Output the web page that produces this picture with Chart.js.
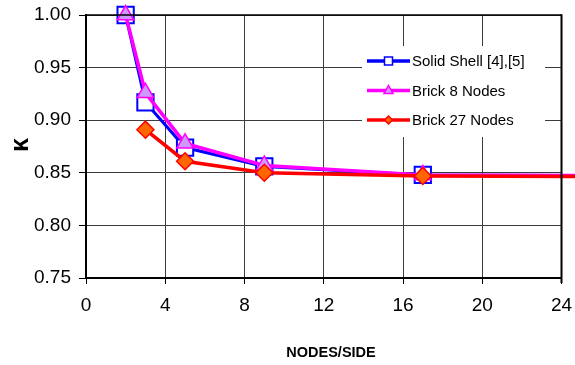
<!DOCTYPE html>
<html>
<head>
<meta charset="utf-8">
<script src="https://cdn.jsdelivr.net/npm/chart.js@4/dist/chart.umd.min.js"></script>
<style>
  html, body { margin: 0; padding: 0; background: #fff; }
  #wrap { width: 575px; height: 365px; position: relative; }
</style>
</head>
<body>
<div id="wrap"><canvas id="c" width="575" height="365"></canvas></div>
<script>
// Convergence of the correction factor with mesh refinement
const nodesPerSide = [2, 3, 5, 9, 17, 33];
const solidShell   = [1.000, 0.917, 0.874, 0.856, 0.848, 0.847];
const brick8       = [1.000, 0.926, 0.878, 0.857, 0.848, 0.847];
const brick27      = [null, 0.891, 0.861, 0.850, 0.847, 0.846];

const seriesNames = ['Solid Shell [4],[5]', 'Brick 8 Nodes', 'Brick 27 Nodes'];
const xTicks = [0, 4, 8, 12, 16, 20, 24];
const yTicks = ['0.75', '0.80', '0.85', '0.90', '0.95', '1.00'];
const xTitle = 'NODES/SIDE';
const yTitle = '\u03BA';

const toPoints = vals => nodesPerSide.map((n, i) => ({ x: n, y: vals[i] }));

const FONT = '"Liberation Sans", Arial, Helvetica, sans-serif';

const series = [
  { label: seriesNames[0], data: toPoints(solidShell), borderColor: '#0000FF', borderWidth: 3,
    pointStyle: 'rect', pointRadius: 11.5, pointBackgroundColor: '#FFFFFF',
    pointBorderColor: '#0000FF', pointBorderWidth: 2, order: 3 },
  { label: seriesNames[1], data: toPoints(brick8), borderColor: '#FF00FF', borderWidth: 3.5,
    pointStyle: 'triangle', pointRadius: 9.5, pointBackgroundColor: '#CC99FF',
    pointBorderColor: '#FF00FF', pointBorderWidth: 1.5, order: 2 },
  { label: seriesNames[2], data: toPoints(brick27), borderColor: '#FF0000', borderWidth: 3.5,
    pointStyle: 'rectRot', pointRadius: 8.5, pointBackgroundColor: '#FF6600',
    pointBorderColor: '#FF0000', pointBorderWidth: 1.5, order: 1 }
];

// Frame, axis titles and the in-plot legend
const decorations = {
  id: 'decorations',
  afterDatasetsDraw(chart) {
    const ctx = chart.ctx;
    const a = chart.chartArea;
    ctx.save();

    // heavy frame on the top and right edges
    ctx.strokeStyle = '#000';
    ctx.lineWidth = 1.5;
    ctx.beginPath(); ctx.moveTo(a.left, a.top); ctx.lineTo(a.right, a.top); ctx.stroke();
    ctx.lineWidth = 2;
    ctx.beginPath(); ctx.moveTo(a.right, a.top - 0.75); ctx.lineTo(a.right, a.bottom + 5); ctx.stroke();

    // legend box
    const bx = 362, by = 46, bw = 183, bh = 91;
    ctx.fillStyle = '#fff';
    ctx.fillRect(bx, by, bw, bh);
    const rows = [61, 90.5, 120];
    ctx.font = '15px ' + FONT;
    ctx.textBaseline = 'middle';
    ctx.textAlign = 'left';
    series.forEach((s, i) => {
      const y = rows[i];
      ctx.strokeStyle = s.borderColor;
      ctx.lineWidth = 3.5;
      ctx.beginPath(); ctx.moveTo(367, y); ctx.lineTo(410, y); ctx.stroke();
      const cx = 388.5;
      ctx.fillStyle = s.pointBackgroundColor;
      ctx.strokeStyle = s.pointBorderColor;
      ctx.lineWidth = 1.5;
      ctx.beginPath();
      if (s.pointStyle === 'rect') {
        ctx.rect(cx - 4, y - 4, 8, 8);
      } else if (s.pointStyle === 'triangle') {
        ctx.moveTo(cx, y - 5); ctx.lineTo(cx + 4.5, y + 3); ctx.lineTo(cx - 4.5, y + 3); ctx.closePath();
      } else {
        ctx.moveTo(cx, y - 4); ctx.lineTo(cx + 4, y); ctx.lineTo(cx, y + 4); ctx.lineTo(cx - 4, y); ctx.closePath();
      }
      ctx.fill(); ctx.stroke();
      ctx.fillStyle = '#000';
      ctx.fillText(s.label, 412, y + 1);
    });

    // x axis title
    ctx.fillStyle = '#000';
    ctx.font = 'bold 14.5px ' + FONT;
    ctx.textAlign = 'center';
    ctx.textBaseline = 'middle';
    ctx.fillText(xTitle, 331, 353);

    // y axis title
    ctx.save();
    ctx.translate(21, 145);
    ctx.rotate(-Math.PI / 2);
    ctx.font = 'bold 25px ' + FONT;
    ctx.fillText(yTitle, 0, 0);
    ctx.restore();

    ctx.restore();
  }
};

new Chart(document.getElementById('c'), {
  type: 'line',
  data: { datasets: series.map(s => Object.assign({ fill: false, tension: 0, clip: false, spanGaps: true }, s)) },
  options: {
    responsive: false,
    animation: false,
    events: [],
    layout: { padding: { left: 0, right: 11, top: 15, bottom: 0 } },
    plugins: { legend: { display: false }, tooltip: { enabled: false }, title: { display: false } },
    scales: {
      x: {
        type: 'linear', min: 0, max: 24,
        afterBuildTicks: s => { s.ticks = xTicks.map(v => ({ value: v })); },
        afterFit: s => { s.height = 87; s.paddingLeft = 0; s.paddingRight = 0; },
        grid: { color: '#3c3c3c', lineWidth: 1, drawTicks: true, tickLength: 6, tickColor: '#000', tickWidth: 1 },
        border: { display: true, color: '#000', width: 2 },
        ticks: { color: '#000', font: { family: FONT, size: 19 }, padding: 10, maxRotation: 0, autoSkip: false }
      },
      y: {
        type: 'linear', min: 0.75, max: 1.0,
        afterBuildTicks: s => { s.ticks = yTicks.map(v => ({ value: parseFloat(v) })); },
        afterFit: s => { s.width = 86; s.paddingTop = 0; s.paddingBottom = 0; },
        grid: { color: '#3c3c3c', lineWidth: 1, drawTicks: true, tickLength: 7, tickColor: '#000', tickWidth: 1 },
        border: { display: true, color: '#000', width: 2 },
        ticks: { color: '#000', font: { family: FONT, size: 19 }, padding: 8,
                 callback: (v, i) => yTicks[i] }
      }
    }
  },
  plugins: [decorations]
});
</script>
</body>
</html>
